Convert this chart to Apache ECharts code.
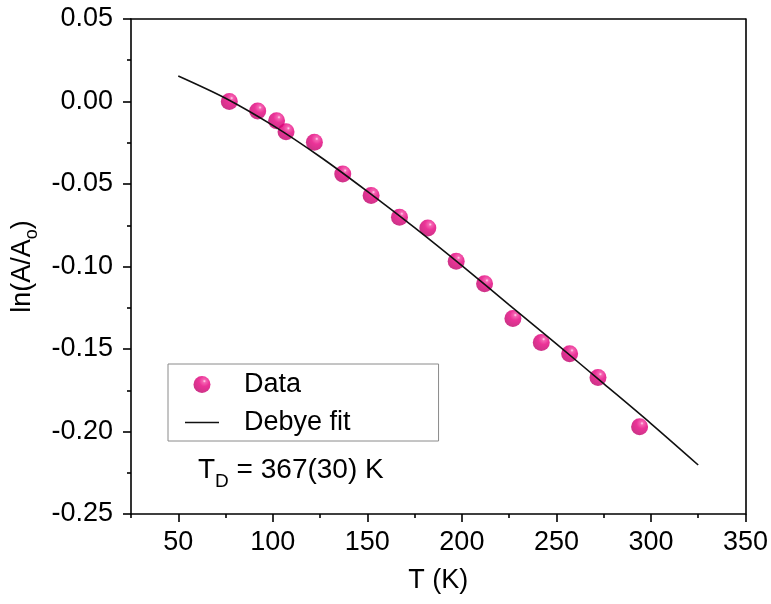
<!DOCTYPE html>
<html>
<head>
<meta charset="utf-8">
<script src="https://cdn.jsdelivr.net/npm/echarts@6/dist/echarts.min.js"></script>
<style>
html,body{margin:0;padding:0;background:#fff;}
#chart{width:771px;height:604px;}
</style>
</head>
<body>
<div id="chart"></div>
<script>
// ---- data ----
var dataT   = [77, 92, 102, 107, 122, 137, 152, 167, 182, 197, 212, 227, 242, 257, 272, 294];
var dataLnA = [0.000, -0.0057, -0.0116, -0.0183, -0.0247, -0.0439, -0.0570, -0.0701, -0.0766, -0.0968, -0.1105, -0.1315, -0.1461, -0.1529, -0.1673, -0.1971];
var fitT    = [50, 75, 100, 125, 150, 175, 200, 225, 250, 275, 300, 325];
var fitLnA  = [0.0155, 0.0020, -0.0145, -0.0335, -0.0545, -0.0765, -0.0995, -0.1232, -0.1469, -0.1710, -0.1952, -0.2203];
var xMajorTicks = [50, 100, 150, 200, 250, 300, 350];
var xMinorTicks = [25, 75, 125, 175, 225, 275, 325];
var yMin = -0.25, yMax = 0.05, yStep = 0.05;
var xMin = 25, xMax = 350;
var legendNames = ['Data', 'Debye fit'];

var FONT = '"Liberation Sans", Arial, Helvetica, sans-serif';
var INK = '#000';
var FS = 27;

var chart = echarts.init(document.getElementById('chart'), null, {renderer: 'canvas'});

function zip(a, b) { return a.map(function (v, i) { return [v, b[i]]; }); }

var sphere = new echarts.graphic.RadialGradient(0.64, 0.3, 0.75, [
  {offset: 0, color: '#ffd2ea'},
  {offset: 0.13, color: '#f23c9e'},
  {offset: 0.42, color: '#e6007e'},
  {offset: 1, color: '#bd0068'}
]);

var option = {
  animation: false,
  backgroundColor: '#fff',
  textStyle: {fontFamily: FONT, color: INK},
  grid: {left: 131, right: 22, top: 19, bottom: 90, containLabel: false},
  title: {
    left: 193, top: 444,
    text: '{a|T}{s|D}{a| = 367(30) K}',
    textStyle: {
      fontWeight: 'normal',
      rich: {
        a: {fontFamily: FONT, fontSize: 28, fontWeight: 'normal', color: INK, lineHeight: 42, verticalAlign: 'middle'},
        s: {fontFamily: FONT, fontSize: 19, fontWeight: 'normal', color: INK, lineHeight: 19, verticalAlign: 'bottom'}
      }
    }
  },
  legend: {
    orient: 'vertical',
    left: 168, top: 364,
    padding: [7, 88, 5, 17],
    itemGap: 11,
    itemWidth: 34, itemHeight: 17,
    borderColor: '#8a8a8a', borderWidth: 1,
    data: [
      {name: legendNames[0], icon: 'circle'},
      {name: legendNames[1], icon: 'path://M0,0H34V1.6H0Z'}
    ],
    textStyle: {fontFamily: FONT, fontSize: FS, color: INK, padding: [0, 0, 0, 20]}
  },
  xAxis: [
    {
      type: 'value', min: xMin, max: xMax, position: 'bottom',
      name: 'T (K)', nameLocation: 'middle', nameGap: 53,
      nameTextStyle: {fontFamily: FONT, fontSize: FS, color: INK},
      axisLine: {show: true, onZero: false, lineStyle: {color: INK, width: 1.6}},
      axisTick: {show: true, inside: false, length: 8, customValues: xMajorTicks, lineStyle: {color: INK, width: 1.6}},
      axisLabel: {show: true, customValues: xMajorTicks, fontFamily: FONT, fontSize: FS, color: INK, margin: 15},
      splitLine: {show: false}
    },
    {
      type: 'value', min: xMin, max: xMax, position: 'bottom',
      axisLine: {show: false, onZero: false},
      axisTick: {show: true, inside: false, length: 4, customValues: xMinorTicks, lineStyle: {color: INK, width: 1.6}},
      axisLabel: {show: false},
      splitLine: {show: false}
    },
    {
      type: 'value', min: xMin, max: xMax, position: 'top',
      axisLine: {show: true, onZero: false, lineStyle: {color: INK, width: 1.6}},
      axisTick: {show: false}, axisLabel: {show: false}, splitLine: {show: false}
    }
  ],
  yAxis: [
    {
      type: 'value', min: yMin, max: yMax, interval: yStep, position: 'left',
      name: '{m|ln(A/A}{s|o}{m|)}', nameLocation: 'middle', nameGap: 81,
      nameTextStyle: {
        rich: {
          m: {fontFamily: FONT, fontSize: FS, color: INK, lineHeight: 36, verticalAlign: 'middle'},
          s: {fontFamily: FONT, fontSize: 18, color: INK, lineHeight: 18, verticalAlign: 'bottom'}
        }
      },
      axisLine: {show: true, onZero: false, lineStyle: {color: INK, width: 1.6}},
      axisTick: {show: true, inside: false, length: 8, lineStyle: {color: INK, width: 1.6}},
      minorTick: {show: true, splitNumber: 2, length: 4, lineStyle: {color: INK, width: 1.6}},
      axisLabel: {
        fontFamily: FONT, fontSize: FS, color: INK, margin: 18,
        formatter: function (v) { return (Math.abs(v) < 1e-9 ? 0 : v).toFixed(2); }
      },
      splitLine: {show: false}, minorSplitLine: {show: false}
    },
    {
      type: 'value', min: yMin, max: yMax, interval: yStep, position: 'right',
      axisLine: {show: true, onZero: false, lineStyle: {color: INK, width: 1.6}},
      axisTick: {show: false}, axisLabel: {show: false}, splitLine: {show: false}
    }
  ],
  series: [
    {
      name: legendNames[0], type: 'scatter', xAxisIndex: 0, yAxisIndex: 0,
      symbol: 'circle', symbolSize: 17,
      itemStyle: {color: sphere},
      data: zip(dataT, dataLnA), z: 2
    },
    {
      name: legendNames[1], type: 'line', xAxisIndex: 0, yAxisIndex: 0,
      smooth: 0.3, showSymbol: false, symbol: 'none',
      lineStyle: {color: '#111', width: 1.6},
      itemStyle: {color: '#111'},
      data: zip(fitT, fitLnA), z: 3
    }
  ]
};
chart.setOption(option);
</script>
</body>
</html>
